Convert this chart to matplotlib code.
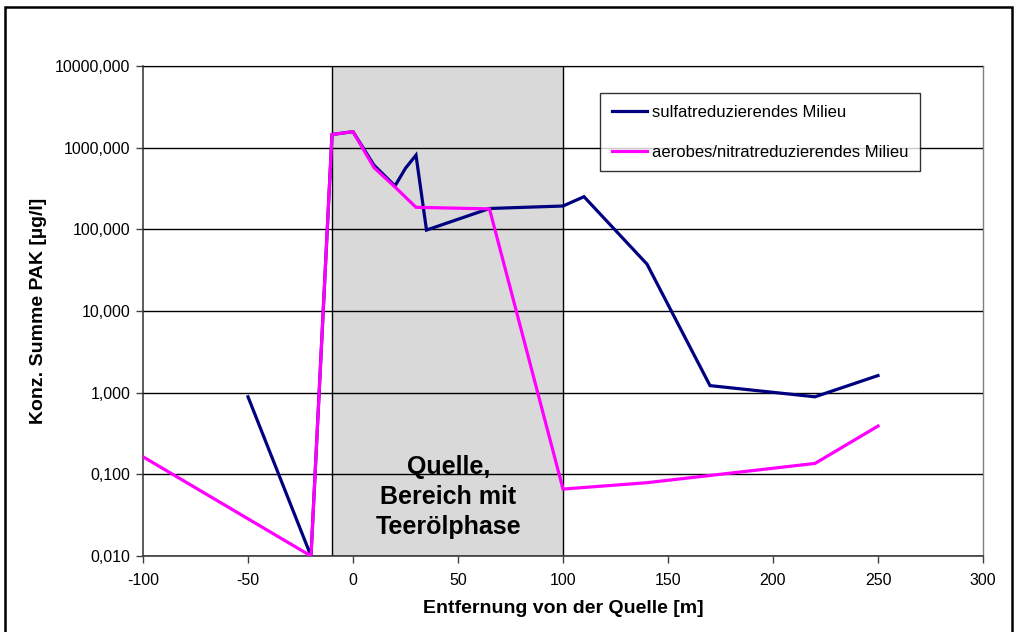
import matplotlib
matplotlib.use("Agg")
import matplotlib.pyplot as plt
from matplotlib.ticker import FuncFormatter, FixedLocator, NullLocator
from matplotlib.patches import Rectangle

plt.rcParams['font.family'] = ['Liberation Sans', 'DejaVu Sans']
plt.rcParams['axes.unicode_minus'] = False

# Data
x_sulfat = [-50, -20, -10, 0, 10, 20, 25, 30, 35, 65, 100, 110, 140, 170, 220, 250]
y_sulfat = [0.89, 0.01, 1450, 1570, 610, 340, 560, 810, 98, 180, 193, 251, 37.5, 1.22, 0.89, 1.62]

x_aerob = [-100, -20, -10, 0, 10, 20, 30, 65, 100, 140, 220, 250]
y_aerob = [0.164, 0.01, 1450, 1570, 570, 330, 186, 178, 0.066, 0.079, 0.136, 0.39]

label_sulfat = "sulfatreduzierendes Milieu"
label_aerob = "aerobes/nitratreduzierendes Milieu"
source_range = (-10, 100)
source_text = "Quelle,\nBereich mit\nTeerölphase"
x_ticks = [-100, -50, 0, 50, 100, 150, 200, 250, 300]
y_ticks = [0.01, 0.1, 1, 10, 100, 1000, 10000]

fig = plt.figure(figsize=(10.14, 6.32), dpi=100)
ax = fig.add_axes([143/1014, 1 - 556/632, (983-143)/1014, (556-66)/632])

# outer frame
fig.patches.append(Rectangle((5/1014, -0.1), (1012-5)/1014, 1.1 - 7/632, transform=fig.transFigure,
                             fill=False, edgecolor='black', linewidth=1.8, zorder=0))

ax.set_yscale('log')
ax.set_xlim(-100, 300)
ax.set_ylim(0.01, 10000)

ax.axvspan(*source_range, facecolor='#d9d9d9', edgecolor='none', zorder=0.5)
for xv in source_range:
    ax.axvline(xv, color='black', linewidth=1.0, zorder=1)

ax.yaxis.set_major_locator(FixedLocator(y_ticks))
ax.yaxis.set_minor_locator(NullLocator())
ax.xaxis.set_major_locator(FixedLocator(x_ticks))
ax.grid(axis='y', which='major', color='black', linewidth=1.0, zorder=1)
ax.set_axisbelow(False)

def de_fmt(v, pos):
    return f"{v:.3f}".replace('.', ',')
ax.yaxis.set_major_formatter(FuncFormatter(de_fmt))

t = ax.text(45.5, 0.053, source_text, ha='center', va='center', fontsize=18, fontweight='bold',
            linespacing=1.3, zorder=1.5,
            bbox=dict(facecolor='#d9d9d9', edgecolor='none', boxstyle='square,pad=1.1'))
t.set_clip_on(True)

ax.plot(x_sulfat, y_sulfat, color='#000080', linewidth=2.3, label=label_sulfat, zorder=3,
        solid_joinstyle='miter')
ax.plot(x_aerob, y_aerob, color='#ff00ff', linewidth=2.3, label=label_aerob, zorder=3,
        solid_joinstyle='miter')

for s in ['top', 'right']:
    ax.spines[s].set_color('#808080')
    ax.spines[s].set_linewidth(1.0)
for s in ['left', 'bottom']:
    ax.spines[s].set_color('#404040')
    ax.spines[s].set_linewidth(1.2)

ax.tick_params(axis='both', which='major', direction='out', length=5, width=1.0,
               color='#404040', labelsize=11.5)
ax.tick_params(axis='x', pad=7)
ax.tick_params(axis='y', pad=4)

ax.set_xlabel("Entfernung von der Quelle [m]", fontsize=14, fontweight='bold', labelpad=9)
ax.set_ylabel("Konz. Summe PAK [µg/l]", fontsize=14, fontweight='bold', labelpad=6)

leg = ax.legend(loc='upper left', bbox_to_anchor=((600-143)/840, (556-93)/490), frameon=True,
                fancybox=False, edgecolor='black', fontsize=12, handlelength=2.1,
                handletextpad=0.3, labelspacing=1.5, borderpad=0.7, borderaxespad=0)
leg.get_frame().set_linewidth(1.0)

fig.savefig("out.png", dpi=100)
